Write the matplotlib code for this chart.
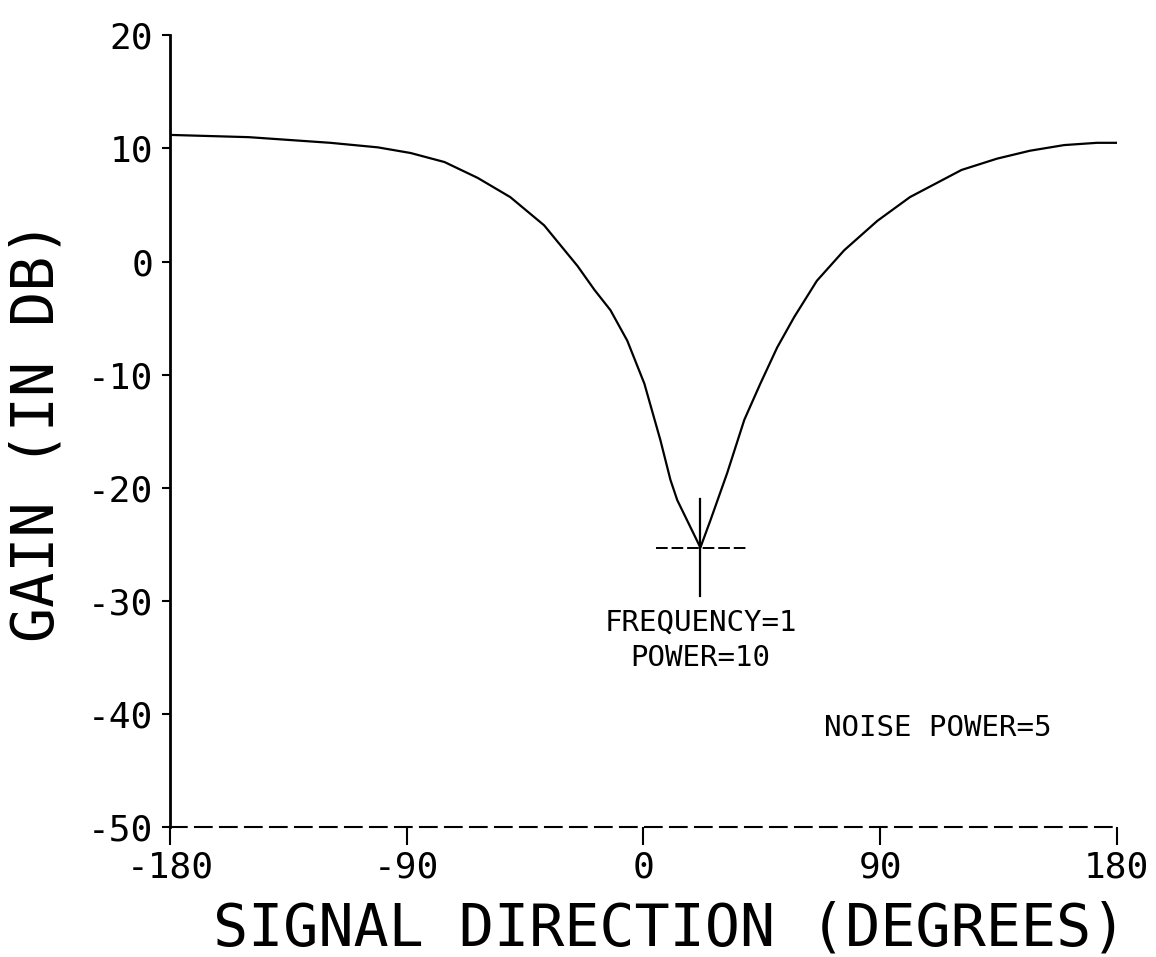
import matplotlib
matplotlib.use("Agg")
import matplotlib.pyplot as plt

# Datos (dirección en grados, ganancia en dB)
direccion = [-180, -150, -119, -101, -88.5, -75.6, -63, -50.6, -37.7, -25, -18.6,
             -12.5, -6.1, 0.4, 6.5, 10.3, 12.9, 21.7, 25.5, 31.9, 38.4, 44.5, 50.9,
             57.4, 66, 76.4, 89, 101.4, 121, 134.5, 147, 160, 172.5, 180]
ganancia = [11.2, 11.0, 10.5, 10.1, 9.6, 8.8, 7.4, 5.7, 3.2, -0.4, -2.5,
            -4.3, -7.0, -10.8, -15.8, -19.3, -21.1, -25.3, -22.9, -18.7, -14.0, -10.8, -7.6,
            -4.9, -1.7, 1.0, 3.6, 5.7, 8.1, 9.1, 9.8, 10.3, 10.5, 10.5]

# Marca de la interferencia (cruz)
cruz_x = 21.7
cruz_y = -25.3
cruz_v = [-21.0, -29.6]
cruz_h = [5, 40]

xticks = [-180, -90, 0, 90, 180]
xtick_labels = ['-180', '-90', '0', '90', '180']
yticks = [-50, -40, -30, -20, -10, 0, 10, 20]
ytick_labels = ['-50', '-40', '-30', '-20', '-10', '0', '10', '20']

fuente = 'DejaVu Sans Mono'

fig = plt.figure(figsize=(11.56, 9.57), dpi=100)
ax = fig.add_axes([0.147, 0.136, 0.819, 0.827])

ax.plot(direccion, ganancia, color='black', linewidth=1.6)
ax.plot([cruz_x, cruz_x], cruz_v, color='black', linewidth=1.6)
ax.plot(cruz_h, [cruz_y, cruz_y], color='black', linewidth=1.4, linestyle=(0, (6, 2)))

ax.set_xlim(-180, 180)
ax.set_ylim(-50, 20)
ax.set_xticks(xticks)
ax.set_xticklabels(xtick_labels, fontfamily=fuente, fontsize=26)
ax.set_yticks(yticks)
ax.set_yticklabels(ytick_labels, fontfamily=fuente, fontsize=26)
ax.tick_params(axis='x', direction='out', length=13, width=1.5, pad=4)
ax.tick_params(axis='y', direction='out', length=6, width=1.5, pad=6)

ax.spines['top'].set_visible(False)
ax.spines['right'].set_visible(False)
ax.spines['left'].set_linewidth(2)
ax.spines['bottom'].set_linewidth(1.5)
ax.spines['bottom'].set_linestyle((0, (8, 4)))

ax.set_xlabel('SIGNAL DIRECTION (DEGREES)', fontfamily=fuente, fontsize=42)
ax.xaxis.set_label_coords(0.528, -0.093)
ax.set_ylabel('GAIN (IN DB)', fontfamily=fuente, fontsize=42)
ax.yaxis.set_label_coords(-0.11, 0.5)

ax.text(21.7, -33.5, 'FREQUENCY=1\nPOWER=10', ha='center', va='center',
        fontfamily=fuente, fontsize=21, linespacing=1.3)
ax.text(112, -41.3, 'NOISE POWER=5', ha='center', va='center',
        fontfamily=fuente, fontsize=21)

plt.savefig('out.png', dpi=100)
